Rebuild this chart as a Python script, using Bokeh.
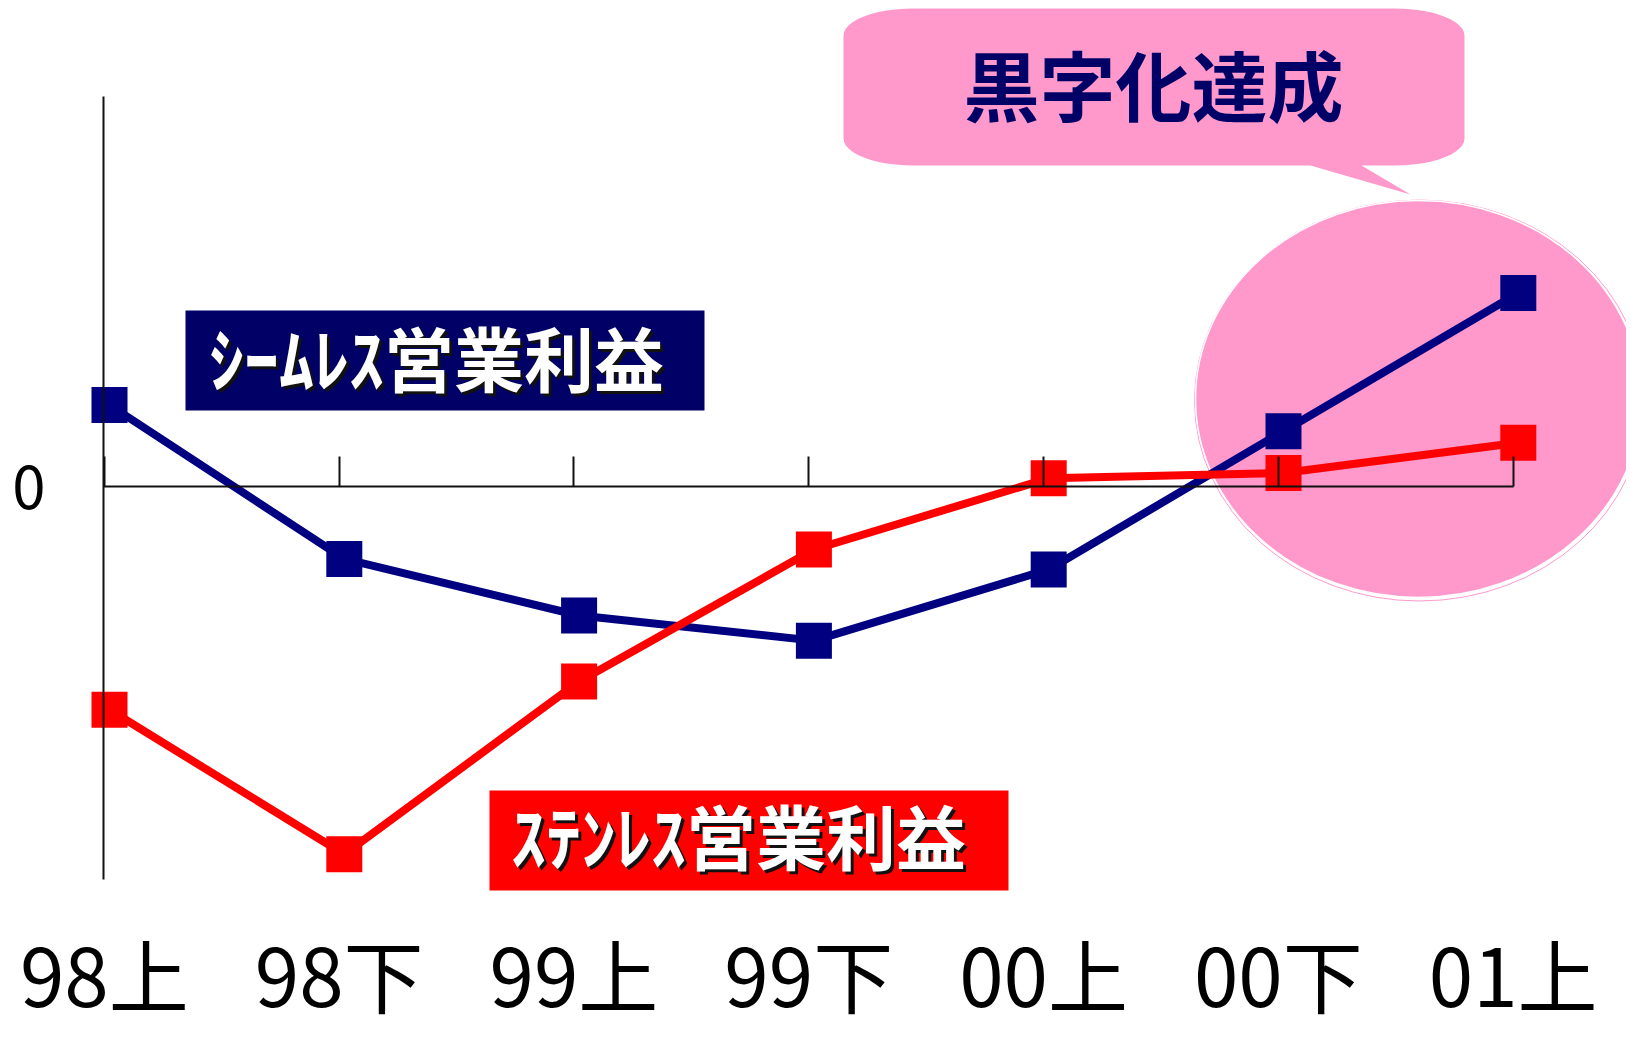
from bokeh.plotting import figure
from bokeh.models import Range1d, LinearAxis, FixedTicker
from bokeh.core.properties import value
from bokeh.embed import file_html
from bokeh.resources import INLINE
import math

# ---------------- data ----------------
categories = ["98上", "98下", "99上", "99下", "00上", "00下", "01上"]
seamless = [7.8, -6.9, -12.3, -14.7, -7.9, 5.3, 18.5]
stainless = [-21.3, -35.1, -18.6, -6.0, 0.8, 1.3, 4.2]
y_ticks = [0]
seamless_label = "ｼｰﾑﾚｽ営業利益"
stainless_label = "ｽﾃﾝﾚｽ営業利益"
callout_label = "黒字化達成"

# ---------------- layout helpers (screen px -> data) ----------------
W, H = 1626, 1029
PX = 234.8      # px per category step
PY = 10.472     # px per value unit
X0 = 109.0      # px of first category
Z = 486.2       # px of zero line
def dx(rx):
    return (rx - X0) / PX
def dy(ry):
    return (Z - ry) / PY

xs = list(range(len(categories)))
TICK_SHIFT = -0.022
tick_pos = [i + TICK_SHIFT for i in xs]

p = figure(width=W, height=H,
           x_range=Range1d(-X0 / PX, (W - X0) / PX),
           y_range=Range1d(-(H - Z) / PY, Z / PY),
           output_backend="svg", toolbar_location=None,
           x_axis_location=None, y_axis_location=None, min_border=0)
p.outline_line_color = None
p.grid.grid_line_color = None
p.background_fill_color = "white"

PINK = "#FF99CC"
NAVY = "#000080"
RED = "#FF0000"

# highlight ellipse
p.ellipse(x=[dx(1419)], y=[dy(400)], width=450 / PX, height=401 / PY,
          fill_color=None, line_color=PINK, line_width=1)
p.ellipse(x=[dx(1418)], y=[dy(398.5)], width=446 / PX, height=397 / PY,
          fill_color=PINK, line_color="white", line_width=1.5)

# callout bubble
L, R, T, B = 843, 1464, 8, 165
rx, ry = 70, 27
pts = []
def arc(cx, cy, a0, a1, n=12):
    for k in range(n + 1):
        a = math.radians(a0 + (a1 - a0) * k / n)
        pts.append((cx + rx * math.cos(a), cy - ry * math.sin(a)))
arc(L + rx, T + ry, 180, 90)
arc(R - rx, T + ry, 90, 0)
arc(R - rx, B - ry, 0, -90)
pts += [(1361, B), (1410, 194), (1310, B)]
arc(L + rx, B - ry, -90, -180)
p.patch(x=[dx(a) for a, b in pts], y=[dy(b) for a, b in pts],
        fill_color=PINK, line_color=None)
p.text(x=[dx(1153)], y=[dy(82)], text=[callout_label],
       text_align="center", text_baseline="middle",
       text_font=value("Noto Sans CJK JP"), text_font_style="bold",
       text_font_size="76px", text_color="#000066")

# axes
zero_axis = LinearAxis(fixed_location=0, bounds=(dx(103), dx(1513)),
                       ticker=FixedTicker(ticks=tick_pos),
                       major_tick_in=30, major_tick_out=0,
                       minor_tick_in=0, minor_tick_out=0,
                       major_label_text_color=None,
                       axis_line_width=2, axis_line_color="#111111",
                       major_tick_line_width=2, major_tick_line_color="#111111")
p.add_layout(zero_axis, "below")

label_axis = LinearAxis(fixed_location=dy(907), ticker=FixedTicker(ticks=tick_pos),
                        major_label_overrides={t: c for t, c in zip(tick_pos, categories)},
                        axis_line_color=None, major_tick_line_color=None,
                        minor_tick_line_color=None, major_label_standoff=0,
                        major_label_text_font="Noto Sans CJK JP",
                        major_label_text_font_size="80px",
                        major_label_text_color="black")
p.add_layout(label_axis, "below")

y_axis = LinearAxis(fixed_location=dx(103), bounds=(dy(879), dy(96)),
                    ticker=FixedTicker(ticks=y_ticks),
                    major_tick_in=0, major_tick_out=0,
                    minor_tick_in=0, minor_tick_out=0,
                    major_label_standoff=58,
                    major_label_text_font="Noto Sans CJK JP",
                    major_label_text_font_size="60px",
                    major_label_text_color="black",
                    axis_line_width=2, axis_line_color="#111111")
p.add_layout(y_axis, "left")

# series
p.line(xs, seamless, line_color=NAVY, line_width=8)
p.scatter(xs, seamless, marker="square", size=36, fill_color=NAVY, line_color=None)
p.line(xs, stainless, line_color=RED, line_width=8)
p.scatter(xs, stainless, marker="square", size=36, fill_color=RED, line_color=None)

# label boxes
p.quad(left=[dx(185)], right=[dx(704)], top=[dy(310)], bottom=[dy(410)],
       fill_color="#000066", line_color=None)
p.quad(left=[dx(489)], right=[dx(1008)], top=[dy(790)], bottom=[dy(890)],
       fill_color=RED, line_color=None)
for tx, ty, lab in [(436, 356, seamless_label), (738, 834, stainless_label)]:
    p.text(x=[dx(tx)], y=[dy(ty)], text=[lab], x_offset=3, y_offset=3,
           text_align="center", text_baseline="middle",
           text_font=value("Noto Sans CJK JP"), text_font_style="bold",
           text_font_size="70px", text_color="#111111")
    p.text(x=[dx(tx)], y=[dy(ty)], text=[lab],
           text_align="center", text_baseline="middle",
           text_font=value("Noto Sans CJK JP"), text_font_style="bold",
           text_font_size="70px", text_color="white")

open("out.html", "w").write(file_html(p, INLINE))
